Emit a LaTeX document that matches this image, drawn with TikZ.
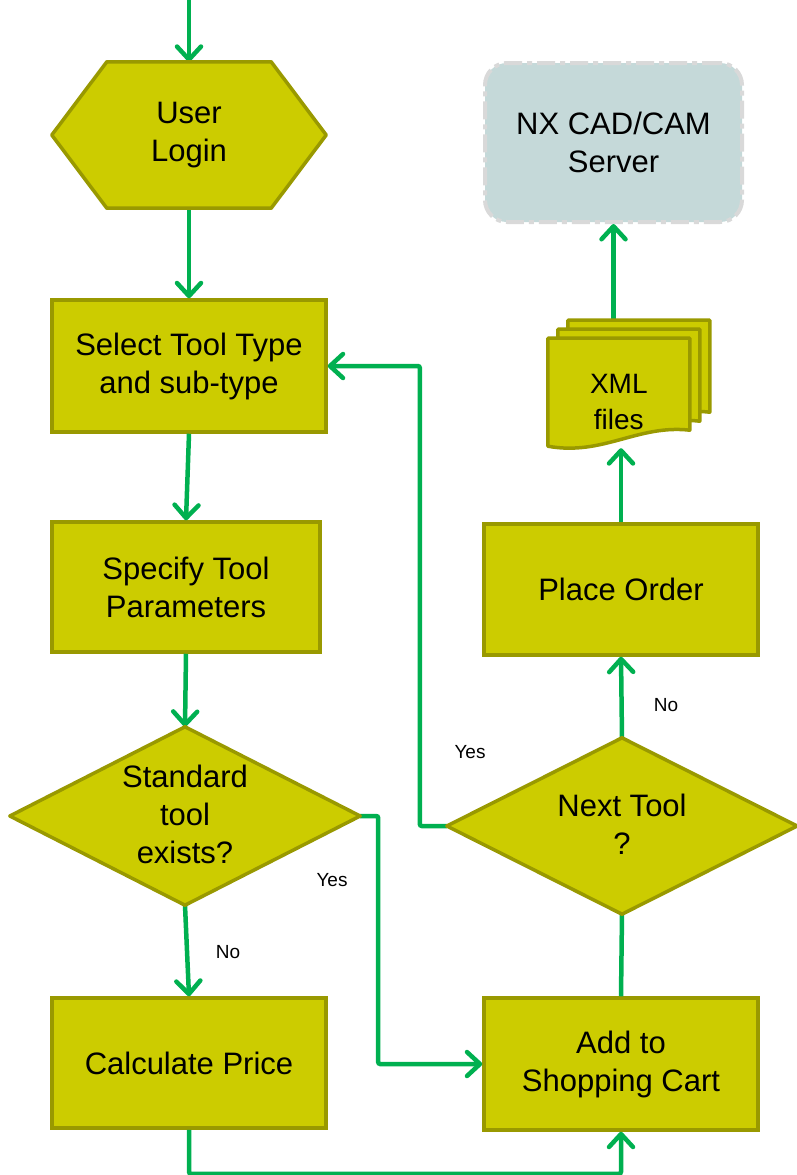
\documentclass[tikz,border=0pt]{standalone}
\usepackage{fontspec}
\setmainfont{Liberation Sans}
\usetikzlibrary{arrows.meta,calc}
\definecolor{boxfill}{HTML}{CCCC00}
\definecolor{boxline}{HTML}{999900}
\definecolor{flow}{HTML}{00B050}
\definecolor{srvfill}{HTML}{C5D9D9}
\definecolor{srvline}{HTML}{D9D9D9}
\tikzset{
  stepbox/.style={draw=boxline, fill=boxfill, line width=3.5pt, align=center,
    font=\fontsize{31}{38}\selectfont, inner sep=0pt},
  ghost/.style={draw=none, align=center, font=\fontsize{31}{38}\selectfont, inner sep=0pt},
  shapeline/.style={draw=boxline, fill=boxfill, line width=3.5pt, line join=round},
  flowline/.style={draw=flow, line width=4.5pt, rounded corners=2pt},
  flowarrow/.style={flowline, -{Straight Barb[length=13pt,width=24pt,line cap=round,line join=round]}},
  lbl/.style={font=\fontsize{19}{22}\selectfont, inner sep=0pt},
}
\begin{document}
\begin{tikzpicture}[x=1pt,y=-1pt]
\useasboundingbox (0,0) rectangle (796,1175);

% nodes (invisible frames for custom shapes)
\node[ghost, minimum width=274pt, minimum height=146pt] (hex) at (189,135) {};
\node[stepbox, minimum width=274pt, minimum height=132pt] (sel) at (189,366) {Select Tool Type\\and sub-type};
\node[stepbox, minimum width=268pt, minimum height=130pt] (spec) at (186,587) {Specify Tool\\Parameters};
\node[ghost, minimum width=350pt, minimum height=178pt] (std) at (185,816) {};
\node[stepbox, minimum width=274pt, minimum height=130pt] (calc) at (189,1063) {Calculate Price};
\node[stepbox, minimum width=274pt, minimum height=132pt] (add) at (621,1064) {Add to\\Shopping Cart};
\node[ghost, minimum width=350pt, minimum height=176pt] (next) at (622,826) {};
\node[stepbox, minimum width=274pt, minimum height=131pt] (place) at (621,589.5) {Place Order};
\node[ghost, minimum width=163pt, minimum height=110pt] (xml) at (629.5,393) {};
\node[draw=srvline, fill=srvfill, line width=4pt, rounded corners=22pt,
      dash pattern=on 18pt off 5pt on 5pt off 5pt,
      minimum width=257pt, minimum height=159pt, align=center,
      font=\fontsize{31}{38}\selectfont] (server) at (613.5,142.5) {NX CAD/CAM\\Server};
\coordinate (start) at (189,0);

% connectors
\draw[flowarrow] (start) -- (hex.north);
\draw[flowarrow] (hex.south) -- (sel.north);
\draw[flowarrow] (sel.south) -- (spec.north);
\draw[flowarrow] (spec.south) -- (std.north);
\draw[flowarrow] (std.south) -- (calc.north);
\draw[flowarrow] (calc.south) -- ++(0,44) -| (add.south);
\draw[flowarrow] (std.east) -- ++(18,0) |- (add.west);
\draw[flowline] (add.north) -- (next.south);
\draw[flowarrow] (next.west) -- ++(-27,0) |- (sel.east);
\draw[flowarrow] (next.north) -- (place.south);
\draw[flowarrow] (place.north) -- (place.north |- xml.south);
\draw[flowarrow] (xml.north -| server.south) -- (server.south);

% hexagon
\draw[shapeline] ($(hex.north west)+(55,0)$) -- ($(hex.north east)+(-55,0)$) -- (hex.east)
  -- ($(hex.south east)+(-55,0)$) -- ($(hex.south west)+(55,0)$) -- (hex.west) -- cycle;
\node[ghost] (hextxt) at (hex.center) {User\\Login};

% diamonds
\draw[shapeline] (std.north) -- (std.east) -- (std.south) -- (std.west) -- cycle;
\node[ghost] (stdtxt) at ([yshift=2pt]std.center) {Standard\\tool\\exists?};
\draw[shapeline] (next.north) -- (next.east) -- (next.south) -- (next.west) -- cycle;
\node[ghost] (nexttxt) at ([yshift=2pt]next.center) {Next Tool\\?};

% multi-document
\foreach \dx/\dy in {20/-18, 10/-9, 0/0}{
  \draw[shapeline] ($(xml.south west)+(\dx,\dy-110)$) -- ($(xml.south west)+(\dx+142,\dy-110)$)
    -- ($(xml.south west)+(\dx+142,\dy-18)$)
    .. controls ($(xml.south west)+(\dx+90,\dy-24)$) and ($(xml.south west)+(\dx+55,\dy+8)$)
    .. ($(xml.south west)+(\dx,\dy-2)$) -- cycle;
}
\node[ghost, font=\fontsize{28}{36}\selectfont] (xmltxt) at ($(xml.south west)+(71,-46)$) {XML\\files};

% labels
\node[lbl] (l1) at (470,752) {Yes};
\node[lbl] (l2) at (666,705) {No};
\node[lbl] (l3) at (332,880) {Yes};
\node[lbl] (l4) at (228,952) {No};
\end{tikzpicture}
\end{document}
